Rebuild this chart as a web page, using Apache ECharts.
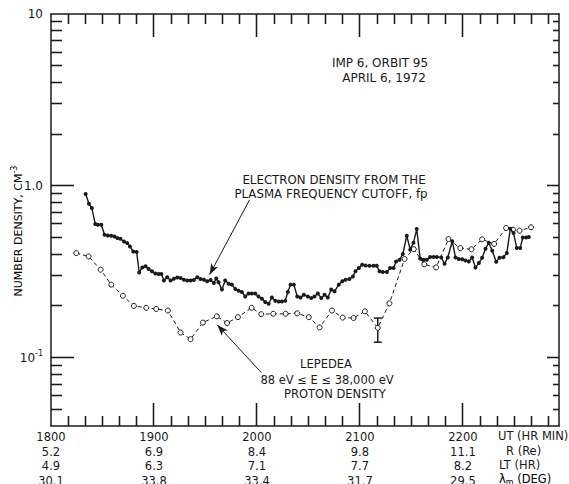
<!DOCTYPE html>
<html>
<head>
<meta charset="utf-8">
<script src="https://cdn.jsdelivr.net/npm/echarts@6/dist/echarts.min.js"></script>
<style>
html,body{margin:0;padding:0;background:#fff;}
#chart{width:569px;height:484px;}
</style>
</head>
<body>
<div id="chart"></div>
<script>
// ---- Data (x = minutes after 1800 UT) ----
var electronMin = [20.2,22.1,23.8,25.8,27.3,29.3,31.2,33.1,35.1,37.0,38.6,40.4,42.5,44.4,46.0,47.9,49.9,51.4,53.2,55.1,56.9,58.8,60.8,62.7,64.3,65.8,67.7,69.7,71.6,73.6,75.5,77.4,79.4,81.3,83.2,85.2,87.1,89.1,91.0,93.0,94.9,96.3,97.6,99.6,101.5,103.5,105.4,107.4,109.3,111.2,113.2,115.1,117.0,119.0,120.9,122.9,124.8,126.8,128.7,130.7,132.6,134.5,136.5,138.0,139.6,141.5,143.5,145.4,147.3,149.6,151.6,153.5,155.5,157.5,159.4,161.3,163.3,165.2,167.7,169.7,171.6,173.9,175.9,177.4,179.4,181.3,183.3,185.6,187.9,189.8,191.4,193.3,195.7,197.6,199.6,201.1,203.1,205.0,207.3,209.3,211.2,213.1,215.1,217.0,219.0,220.9,222.9,224.8,227.4,229.3,231.2,233.8,235.7,237.6,239.6,241.5,243.4,245.4,247.3,249.3,251.2,253.2,255.1,257.1,259.4,261.3,263.6,265.6,267.6,269.5,271.4,273.4,274.9,276.9,278.4];
var electronDensity = [0.895,0.786,0.742,0.599,0.593,0.593,0.519,0.514,0.512,0.507,0.497,0.492,0.474,0.464,0.444,0.415,0.412,0.313,0.335,0.340,0.328,0.318,0.309,0.307,0.307,0.281,0.294,0.281,0.288,0.293,0.291,0.284,0.281,0.281,0.283,0.294,0.287,0.284,0.278,0.283,0.272,0.289,0.275,0.249,0.281,0.269,0.266,0.251,0.245,0.241,0.227,0.236,0.236,0.236,0.227,0.220,0.211,0.206,0.224,0.214,0.212,0.212,0.214,0.241,0.266,0.266,0.227,0.224,0.232,0.227,0.222,0.227,0.236,0.222,0.232,0.224,0.249,0.243,0.266,0.278,0.284,0.287,0.297,0.318,0.332,0.347,0.344,0.343,0.343,0.343,0.318,0.315,0.315,0.332,0.332,0.363,0.371,0.401,0.512,0.425,0.466,0.560,0.377,0.371,0.371,0.385,0.385,0.385,0.383,0.352,0.383,0.476,0.383,0.375,0.374,0.368,0.363,0.383,0.334,0.355,0.381,0.430,0.466,0.419,0.361,0.381,0.384,0.406,0.562,0.531,0.434,0.434,0.500,0.500,0.503];

var protonMin = [14.7,21.9,28.9,35.1,41.9,48.3,55.5,61.3,68.1,75.5,81.3,88.5,96.6,102.6,108.9,116.9,122.5,129.5,136.7,143.5,150.2,156.5,163.7,169.9,176.3,182.9,190.4,197.2,206.0,211.4,217.5,224.4,231.6,238.5,245.0,251.2,258.2,265.2,269.2,273.0,279.7];
var protonDensity = [0.406,0.388,0.325,0.266,0.229,0.200,0.195,0.192,0.188,0.140,0.128,0.160,0.174,0.159,0.172,0.195,0.179,0.180,0.180,0.181,0.172,0.150,0.188,0.171,0.170,0.186,0.149,0.207,0.375,0.428,0.349,0.335,0.490,0.434,0.427,0.488,0.459,0.568,0.555,0.548,0.574];

// error bar on the proton point near 2110 UT: [minute, low, high]
var protonErrorBar = [[190.4, 0.123, 0.170]];

// ---- Axis labels ----
var utLabels = ['1800','1900','2000','2100','2200'];
var rLabels = ['5.2','6.9','8.4','9.8','11.1'];
var ltLabels = ['4.9','6.3','7.1','7.7','8.2'];
var latLabels = ['30.1','33.8','33.4','31.7','29.5'];
var rowNames = ['UT (HR MIN)','R (Re)','LT (HR)','λ'];

// annotation arrows: [from, to] in data coordinates
var electronArrow = [[115.7,0.829],[92.4,0.304]];
var protonArrow = [[122.6,0.0817],[96.9,0.155]];

// tick positions (axis decoration)
var xMajorTicks = [60, 120, 180, 240];
var xMinorTicks = [];
for (var mm = 10; mm < 296; mm += 10) { if (mm % 60 !== 0) xMinorTicks.push(mm); }
var yMajorTicks = [0.1, 1];
var yMinorTicks = [];
[0.01, 0.1, 1].forEach(function (d) {
  for (var k = 2; k <= 9; k++) { var v = +(k * d).toPrecision(3); if (v > 0.04 && v < 10) yMinorTicks.push(v); }
});

var INK = '#1a1a1a';
var FONT = 'DejaVu Sans';

function zip(a, b) { return a.map(function (v, i) { return [v, b[i]]; }); }

// builds tick lines from a value->pixel converter and the plot frame
function buildTicks(toPx, frame, extra) {
  var out = [];
  function seg(x1, y1, x2, y2) {
    out.push(Object.assign({type: 'line', shape: {x1: x1, y1: y1, x2: x2, y2: y2}, style: {stroke: INK, lineWidth: 1.3, fill: null}}, extra || {}));
  }
  function vtick(v, len) {
    var px = Math.floor(toPx([v, 1])[0]) + 0.5;
    seg(px, frame.bottom, px, frame.bottom - len);
    seg(px, frame.top, px, frame.top + len);
  }
  function htick(v, lenL, lenR) {
    var py = Math.floor(toPx([100, v])[1]) + 0.5;
    seg(frame.left, py, frame.left + lenL, py);
    seg(frame.right, py, frame.right - lenR, py);
  }
  xMinorTicks.forEach(function (v) { vtick(v, 10); });
  xMajorTicks.forEach(function (v) { vtick(v, 23); });
  yMinorTicks.forEach(function (v) { htick(v, 11, 6); });
  yMajorTicks.forEach(function (v) { htick(v, 23, 12); });
  return out;
}

var chart = echarts.init(document.getElementById('chart'), null, {renderer: 'svg'});

function axisBase() {
  return {
    axisLine: {show: true, onZero: false, lineStyle: {color: INK, width: 1.5}},
    axisTick: {show: false},
    splitLine: {show: false}
  };
}

var textGraphics = [
  {type: 'text', x: 380, y: 63, style: {text: 'IMP 6, ORBIT 95', align: 'center', verticalAlign: 'middle', font: '12px "DejaVu Sans"', fill: INK}},
  {type: 'text', x: 384, y: 78, style: {text: 'APRIL 6, 1972', align: 'center', verticalAlign: 'middle', font: '12px "DejaVu Sans"', fill: INK}},
  {type: 'text', x: 334, y: 180, style: {text: 'ELECTRON DENSITY FROM THE', align: 'center', verticalAlign: 'middle', font: '11.8px "DejaVu Sans"', fill: INK}},
  {type: 'text', x: 331, y: 194, style: {text: 'PLASMA FREQUENCY CUTOFF, fp', align: 'center', verticalAlign: 'middle', font: '11.8px "DejaVu Sans"', fill: INK}},
  {type: 'text', x: 326, y: 364, style: {text: 'LEPEDEA', align: 'center', verticalAlign: 'middle', font: '11.5px "DejaVu Sans"', fill: INK}},
  {type: 'text', x: 327, y: 380, style: {text: '88 eV ≤ E ≤ 38,000 eV', align: 'center', verticalAlign: 'middle', font: '11.5px "DejaVu Sans"', fill: INK}},
  {type: 'text', x: 335, y: 394, style: {text: 'PROTON DENSITY', align: 'center', verticalAlign: 'middle', font: '11.5px "DejaVu Sans"', fill: INK}},
  {type: 'text', x: 498, y: 436, style: {text: rowNames[0], align: 'left', verticalAlign: 'middle', font: '11.5px "DejaVu Sans"', fill: INK}},
  {type: 'text', x: 506, y: 451, style: {text: rowNames[1], align: 'left', verticalAlign: 'middle', font: '11.5px "DejaVu Sans"', fill: INK}},
  {type: 'text', x: 499, y: 465, style: {text: rowNames[2], align: 'left', verticalAlign: 'middle', font: '11.5px "DejaVu Sans"', fill: INK}},
  {type: 'text', x: 499, y: 479, style: {
    text: '{a|' + rowNames[3] + '}{s|m}{a| (DEG)}', align: 'left', verticalAlign: 'middle',
    rich: {a: {fontFamily: FONT, fontSize: 11.5, color: INK}, s: {fontFamily: FONT, fontSize: 8, color: INK, verticalAlign: 'bottom', padding: [6, 0, 0, 0]}}
  }},
  {type: 'text', x: 18, y: 231, rotation: Math.PI / 2, style: {
    text: '{a|NUMBER DENSITY, CM}{s|-3}', align: 'center', verticalAlign: 'middle',
    rich: {a: {fontFamily: FONT, fontSize: 11, color: INK}, s: {fontFamily: FONT, fontSize: 8, color: INK, verticalAlign: 'top', padding: [0, 0, 7, 0]}}
  }}
];

var option = {
  animation: false,
  grid: {left: 51, top: 14, right: 10, bottom: 58, outerBoundsMode: 'none', containLabel: false},
  xAxis: [
    Object.assign(axisBase(), {
      type: 'value', position: 'bottom', min: 0, max: 296, interval: 60,
      axisLabel: {
        show: true, margin: 4, color: INK, fontFamily: FONT, fontSize: 11.5, lineHeight: 14.5,
        showMaxLabel: false,
        formatter: function (v) {
          if (Math.abs(v % 60) > 1e-6) return '';
          var i = Math.round(v / 60);
          if (i < 0 || i >= utLabels.length) return '';
          return [utLabels[i], rLabels[i], ltLabels[i], latLabels[i]].join('\n');
        }
      }
    }),
    Object.assign(axisBase(), {
      type: 'value', position: 'top', min: 0, max: 296, interval: 60,
      axisLabel: {show: false}
    })
  ],
  yAxis: [
    Object.assign(axisBase(), {
      type: 'log', logBase: 10, min: 0.04, max: 10, position: 'left',
      axisLabel: {
        show: true, margin: 8, color: INK, fontFamily: FONT, fontSize: 12,
        showMinLabel: false,
        formatter: function (v) {
          var l = Math.log(v) / Math.LN10;
          var r = Math.round(l);
          if (Math.abs(l - r) > 1e-6) return '';
          if (r === -1) return '{b|10}{s|-1}';
          if (r === 0) return '1.0';
          if (r === 1) return '10';
          return '';
        },
        rich: {
          b: {fontFamily: FONT, fontSize: 12, color: INK},
          s: {fontFamily: FONT, fontSize: 8, color: INK, verticalAlign: 'top', padding: [0, 0, 8, 0]}
        }
      }
    }),
    Object.assign(axisBase(), {
      type: 'log', logBase: 10, min: 0.04, max: 10, position: 'right',
      axisLabel: {show: false}
    })
  ],
  series: [
    {
      name: 'Proton density', type: 'line', xAxisIndex: 0, yAxisIndex: 0, z: 3,
      data: zip(protonMin, protonDensity),
      symbol: 'circle', symbolSize: 5, showSymbol: true,
      lineStyle: {color: INK, width: 1, type: [4, 3]},
      itemStyle: {color: '#fff', borderColor: INK, borderWidth: 1},
      markLine: {
        silent: true, symbol: ['none', 'arrow'], symbolSize: [6, 11], animation: false,
        label: {show: false},
        lineStyle: {color: INK, width: 1, type: 'solid'},
        itemStyle: {color: INK},
        data: [[{coord: protonArrow[0]}, {coord: protonArrow[1]}]]
      }
    },
    {
      name: 'Error bar', type: 'custom', xAxisIndex: 0, yAxisIndex: 0, z: 2,
      data: protonErrorBar,
      encode: {x: 0, y: [1, 2]},
      renderItem: function (params, api) {
        var lo = api.coord([api.value(0), api.value(1)]);
        var hi = api.coord([api.value(0), api.value(2)]);
        var st = {stroke: INK, lineWidth: 1.5};
        var children = [
          {type: 'line', shape: {x1: lo[0], y1: lo[1], x2: hi[0], y2: hi[1]}, style: st},
          {type: 'line', shape: {x1: lo[0] - 4, y1: lo[1], x2: lo[0] + 4, y2: lo[1]}, style: st},
          {type: 'line', shape: {x1: hi[0] - 4, y1: hi[1], x2: hi[0] + 4, y2: hi[1]}, style: st}
        ];
        if (params.dataIndex === 0) {
          var cs = params.coordSys;
          var frame = {left: Math.round(cs.x), right: Math.round(cs.x + cs.width), top: Math.round(cs.y), bottom: Math.round(cs.y + cs.height)};
          children = children.concat(buildTicks(function (p) { return api.coord(p); }, frame));
        }
        return {type: 'group', children: children};
      }
    },
    {
      name: 'Electron density', type: 'line', xAxisIndex: 0, yAxisIndex: 0, z: 4,
      data: zip(electronMin, electronDensity),
      symbol: 'circle', symbolSize: 4, showSymbol: true,
      lineStyle: {color: INK, width: 1.4},
      itemStyle: {color: INK, borderWidth: 0},
      markLine: {
        silent: true, symbol: ['none', 'arrow'], symbolSize: [6, 11], animation: false,
        label: {show: false},
        lineStyle: {color: INK, width: 1, type: 'solid'},
        itemStyle: {color: INK},
        data: [[{coord: electronArrow[0]}, {coord: electronArrow[1]}]]
      }
    }
  ],
  graphic: textGraphics
};
chart.setOption(option);

// fallback: the same ticks as graphic elements, placed through the chart's own scales
try {
  var toPx = function (p) { return chart.convertToPixel({xAxisIndex: 0, yAxisIndex: 0}, p); };
  var bl = toPx([0, 0.04]);
  var tr = toPx([296, 10]);
  var frame = {left: Math.round(bl[0]), right: Math.round(tr[0]), top: Math.round(tr[1]), bottom: Math.round(bl[1])};
  var tickGraphics = buildTicks(toPx, frame, {z: 100, silent: true});
  chart.setOption({graphic: textGraphics.concat(tickGraphics)});
} catch (e) {}
</script>
</body>
</html>
